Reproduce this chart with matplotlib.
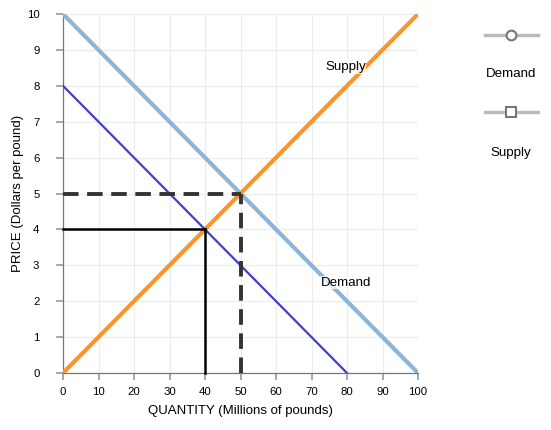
import matplotlib
matplotlib.use("Agg")
import matplotlib.pyplot as plt
from matplotlib.lines import Line2D

plt.rcParams['font.family'] = ['Liberation Sans', 'DejaVu Sans']

# Data
demand_q = [0, 100]
demand_p = [10, 0]
demand2_q = [0, 80]
demand2_p = [8, 0]
supply_q = [0, 100]
supply_p = [0, 10]
eq1_q, eq1_p = 50, 5
eq2_q, eq2_p = 40, 4
x_ticks = [0, 10, 20, 30, 40, 50, 60, 70, 80, 90, 100]
y_ticks = [0, 1, 2, 3, 4, 5, 6, 7, 8, 9, 10]

fig = plt.figure(figsize=(5.51, 4.30), dpi=100)
ax = fig.add_axes([63/551, 1-373/430, (418-63)/551, (373-14)/430])

ax.set_xlim(0, 100)
ax.set_ylim(0, 10)
ax.set_xticks(x_ticks)
ax.set_yticks(y_ticks)
ax.grid(True, color='#ececec', linewidth=0.8)
ax.set_axisbelow(True)
for s in ['top', 'right']:
    ax.spines[s].set_visible(False)
for s in ['left', 'bottom']:
    ax.spines[s].set_color('#777777')
    ax.spines[s].set_linewidth(0.9)
ax.tick_params(axis='both', colors='#999999', labelcolor='black', labelsize=8.2, length=5, width=1.2)
ax.tick_params(axis='y', pad=12)
ax.tick_params(axis='x', pad=5)

ax.plot(demand_q, demand_p, color='#8cb5d9', linewidth=3, solid_capstyle='butt', zorder=3)
ax.plot(supply_q, supply_p, color='#f8962c', linewidth=3, solid_capstyle='butt', zorder=3)
ax.plot(demand2_q, demand2_p, color='#3d40cf', linewidth=1.6, zorder=4)

ax.plot([0, eq1_q], [eq1_p, eq1_p], color='#333333', linewidth=2.8, dashes=(4, 2.2), zorder=5, clip_on=False)
ax.plot([eq1_q, eq1_q], [0, eq1_p], color='#333333', linewidth=2.8, dashes=(4, 2.2), zorder=5, clip_on=False)
ax.plot([0, eq2_q], [eq2_p, eq2_p], color='black', linewidth=1.8, zorder=5, clip_on=False)
ax.plot([eq2_q, eq2_q], [0, eq2_p], color='black', linewidth=1.8, zorder=5, clip_on=False)

bb = dict(facecolor='white', edgecolor='none', alpha=0.75, pad=0.3)
ax.text(73.8, 8.52, 'Supply', fontsize=9.6, va='center', ha='left', zorder=6, bbox=bb)
ax.text(72.6, 2.52, 'Demand', fontsize=9.6, va='center', ha='left', zorder=6, bbox=bb)

ax.set_xlabel('QUANTITY (Millions of pounds)', fontsize=9.5, labelpad=6)
ax.set_ylabel('PRICE (Dollars per pound)', fontsize=9.5, labelpad=2)

# Legend-like widgets on right
def fx(px):
    return px / 551
def fy(py):
    return 1 - py / 430

fig.add_artist(Line2D([fx(485), fx(538)], [fy(35), fy(35)], color='#bbbbbb', linewidth=2.5,
                      transform=fig.transFigure))
fig.add_artist(Line2D([fx(511)], [fy(35)], marker='o', markersize=7, markerfacecolor='white',
                      markeredgecolor='#777777', markeredgewidth=1.5, transform=fig.transFigure))
fig.text(fx(511), fy(74), 'Demand', fontsize=9.6, ha='center', va='center')

fig.add_artist(Line2D([fx(485), fx(538)], [fy(112), fy(112)], color='#bbbbbb', linewidth=2.5,
                      transform=fig.transFigure))
fig.add_artist(Line2D([fx(511)], [fy(112)], marker='s', markersize=6.5, markerfacecolor='white',
                      markeredgecolor='#777777', markeredgewidth=1.5, transform=fig.transFigure))
fig.text(fx(511), fy(153), 'Supply', fontsize=9.6, ha='center', va='center')

fig.savefig('out.png', dpi=100)
